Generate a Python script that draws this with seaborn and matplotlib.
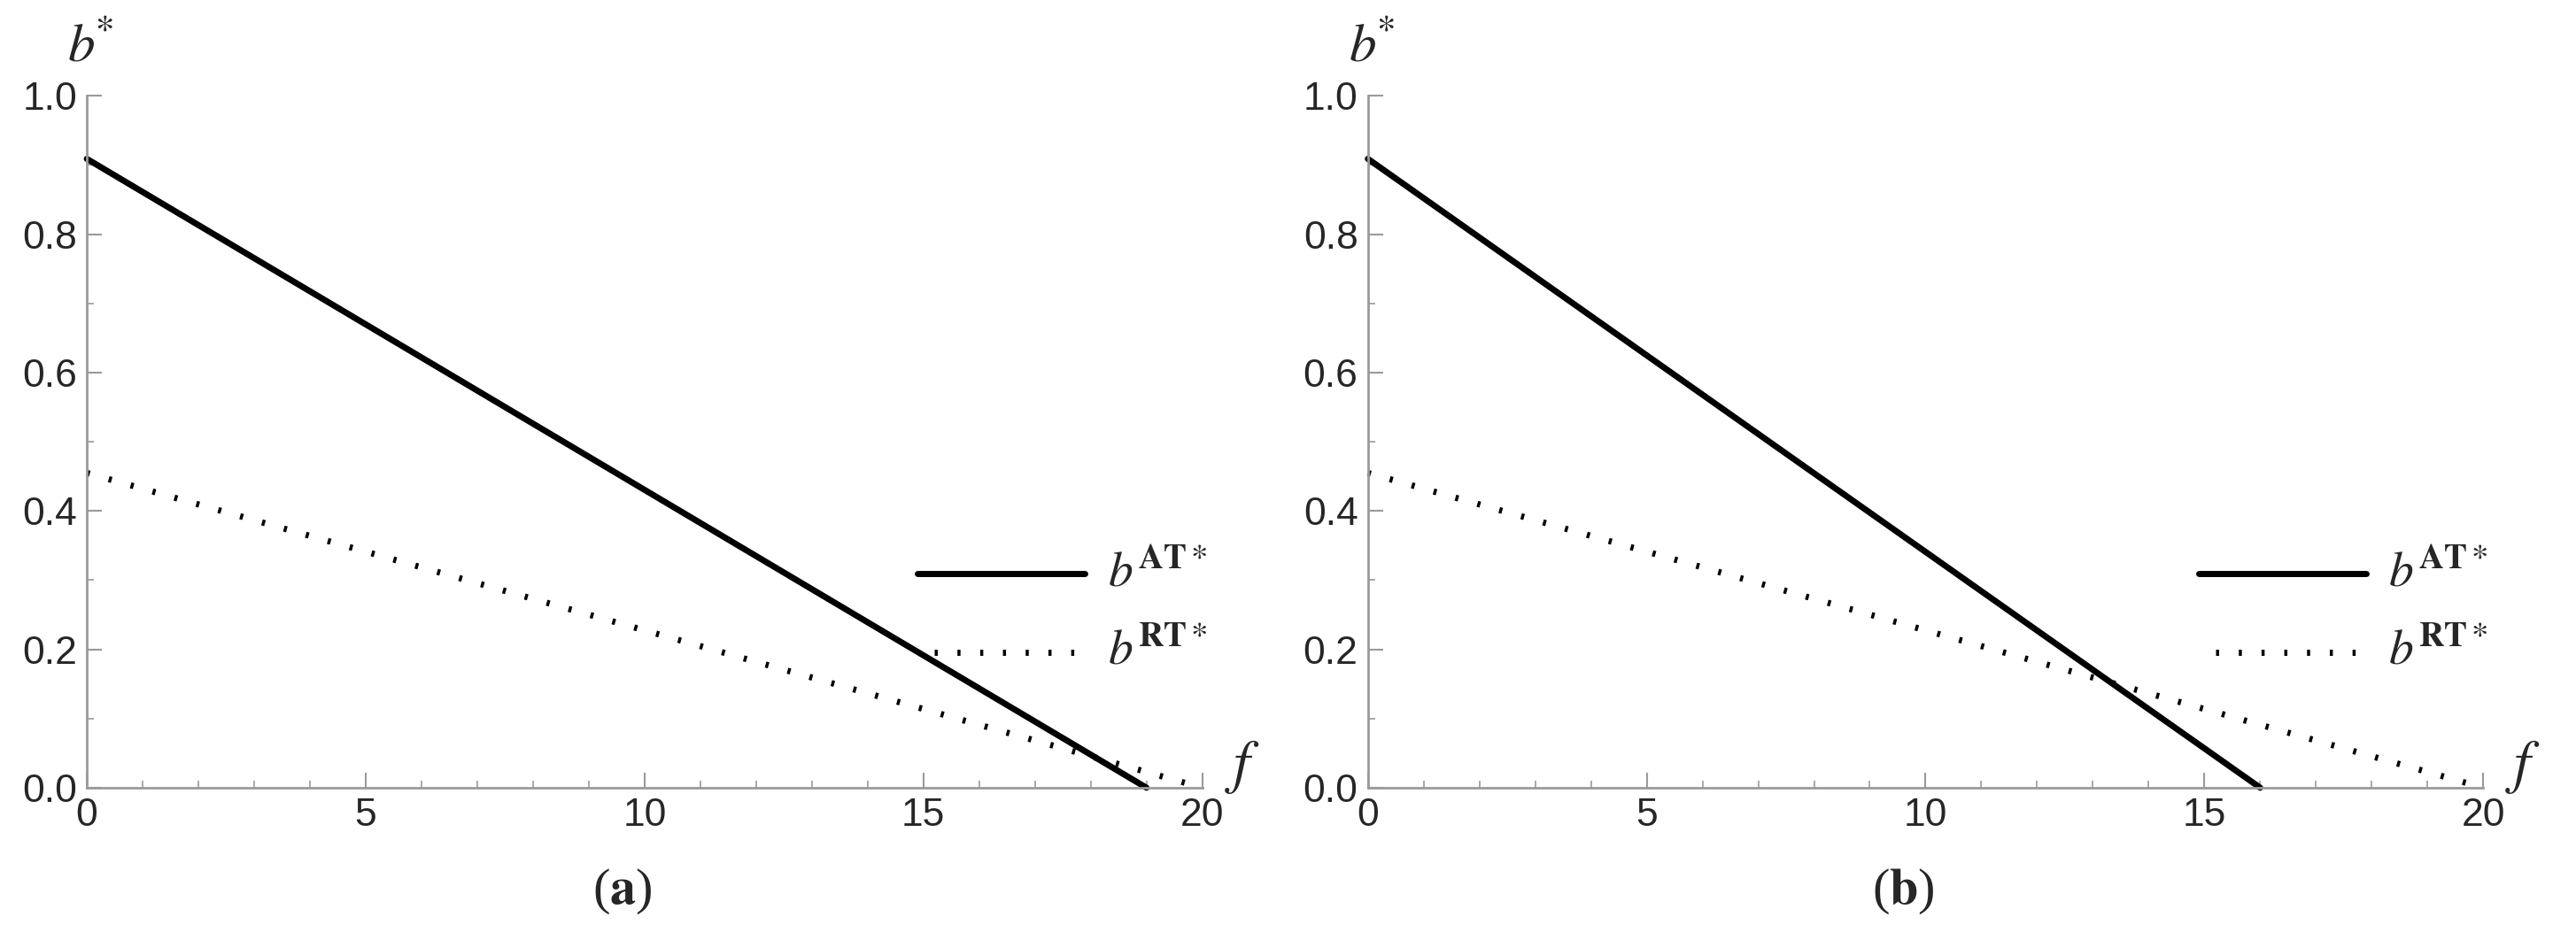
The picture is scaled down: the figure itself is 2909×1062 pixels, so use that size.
import pandas as pd
import matplotlib
matplotlib.use("Agg")
import matplotlib.pyplot as plt
import seaborn as sns
from matplotlib.ticker import MultipleLocator

# Data: line end points for each panel
f_vals = [0, 20]
f_at_a = [0, 19]
f_at_b = [0, 16]
b_at = [0.909, 0.0]
b_rt = [0.455, 0.0]
panel_labels = ["a", "b"]

sns.set_theme(style="white")
plt.rcParams["font.family"] = ["Liberation Sans", "DejaVu Sans"]
plt.rcParams["mathtext.fontset"] = "stix"

fig = plt.figure(figsize=(29.09, 10.62), dpi=100)
ax_a = fig.add_axes([0.0337, 0.162, 0.433, 0.736])
ax_b = fig.add_axes([0.531, 0.162, 0.433, 0.736])

grey = "#9a9a9a"
dots = (0, (0.5, 3.2))
for ax, f_at, lab in zip([ax_a, ax_b], [f_at_a, f_at_b], panel_labels):
    df_at = pd.DataFrame({"f": f_at, "b": b_at})
    df_rt = pd.DataFrame({"f": f_vals, "b": b_rt})
    sns.lineplot(data=df_at, x="f", y="b", ax=ax, color="black", lw=5, clip_on=False)
    sns.lineplot(data=df_rt, x="f", y="b", ax=ax, color="black", lw=5,
                 linestyle=dots, clip_on=False)
    ax.set_xlim(0, 20)
    ax.set_ylim(0, 1.0)
    ax.set_xlabel("")
    ax.set_ylabel("")
    for side in ["top", "right"]:
        ax.spines[side].set_visible(False)
    for side in ["left", "bottom"]:
        ax.spines[side].set_color(grey)
        ax.spines[side].set_linewidth(2)
    ax.xaxis.set_minor_locator(MultipleLocator(1))
    ax.yaxis.set_minor_locator(MultipleLocator(0.1))
    ax.set_xticks([0, 5, 10, 15, 20])
    ax.set_xticklabels(["0", "5", "10", "15", "20"])
    ax.set_yticks([0, 0.2, 0.4, 0.6, 0.8, 1.0])
    ax.set_yticklabels(["0.0", "0.2", "0.4", "0.6", "0.8", "1.0"])
    ax.tick_params(which="major", direction="in", length=12, width=1.5, color=grey,
                   labelsize=32, pad=8, left=True, bottom=True)
    ax.tick_params(which="minor", direction="in", length=6, width=1.2, color=grey,
                   left=True, bottom=True)

    # legend drawn as in the original (lines with labels on the right)
    ax.plot([14.9, 17.9], [0.31, 0.31], color="black", lw=5)
    ax.plot([15.2, 17.8], [0.196, 0.196], color="black", lw=5, linestyle=dots)
    ax.text(18.3, 0.31, r"$\mathit{b}^{\mathbf{AT}*}$", fontsize=40, va="center")
    ax.text(18.3, 0.196, r"$\mathit{b}^{\mathbf{RT}*}$", fontsize=40, va="center")

    ax.text(-0.35, 1.07, r"$\mathbf{\mathit{b}}^{*}$", fontsize=44, ha="left", va="center",
            clip_on=False)
    ax.text(20.4, 0.03, r"$\mathbf{\mathit{f}}$", fontsize=48, ha="left", va="center",
            clip_on=False)
    ax.text(0.48, -0.15, "(" + r"$\mathbf{" + lab + "}$" + ")", fontsize=42,
            ha="center", va="center", transform=ax.transAxes, family="Liberation Serif")

fig.savefig("out.png", dpi=100)
